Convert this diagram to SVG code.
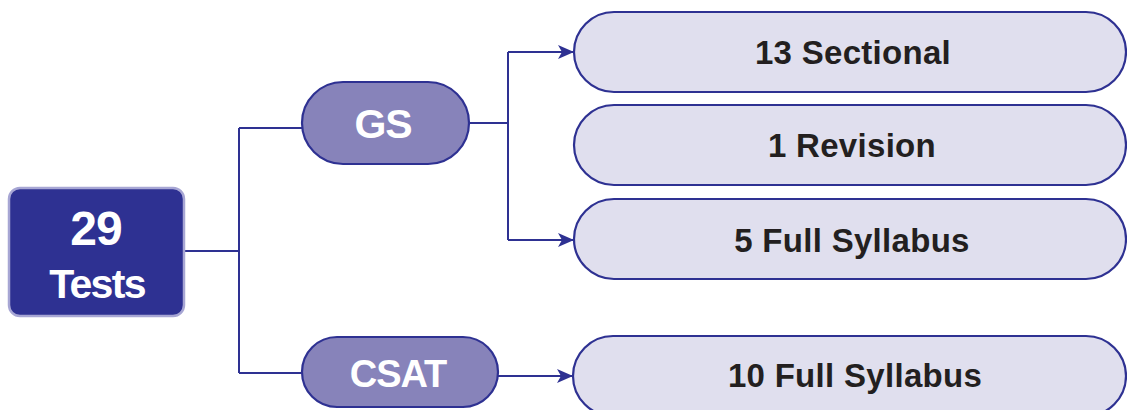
<svg xmlns="http://www.w3.org/2000/svg" width="1127" height="410" viewBox="0 0 1127 410">
<style>
.conn{fill:none;stroke:#2E3192;stroke-width:2}
.leaf{fill:#E0DFEE;stroke:#2E3192;stroke-width:2.2}
.pill{fill:#8783BA;stroke:#2E3192;stroke-width:2.2}
.wt{font-family:"Liberation Sans",Arial,sans-serif;font-weight:bold;fill:#FFFFFF;text-anchor:middle}
.lt{font-family:"Liberation Sans",Arial,sans-serif;font-weight:bold;fill:#231F20;text-anchor:middle;font-size:33px;letter-spacing:0.3px}
</style>
<defs>
<marker id="arr" markerUnits="userSpaceOnUse" markerWidth="16" markerHeight="14" refX="15" refY="7" orient="auto">
<path d="M0,0 L16,7 L0,14 L4,7 Z" fill="#2E3192"/>
</marker>
</defs>
<g id="connectors">
<path class="conn" d="M184,251 H239 M239,128 V373 M239,128 H303 M239,373 H303"/>
<path class="conn" d="M469,123 H508 M508,52 V240"/>
<path class="conn" d="M508,52 H573" marker-end="url(#arr)"/>
<path class="conn" d="M508,240 H573" marker-end="url(#arr)"/>
<path class="conn" d="M498,376 H572" marker-end="url(#arr)"/>
</g>
<g id="root">
<rect x="9" y="188" width="175" height="128" rx="11" fill="#2E3192" stroke="#A7A6D4" stroke-width="2.5"/>
<text class="wt" x="96" y="245" font-size="48" letter-spacing="-1">29</text>
<text class="wt" x="97" y="298" font-size="41" letter-spacing="-1.7">Tests</text>
</g>
<g id="gs">
<rect class="pill" x="302" y="82" width="167" height="82" rx="41"/>
<text class="wt" x="383" y="138" font-size="41" letter-spacing="-1">GS</text>
</g>
<g id="csat">
<rect class="pill" x="302" y="337" width="196" height="70" rx="35"/>
<text class="wt" x="398" y="387" font-size="38" letter-spacing="-1">CSAT</text>
</g>
<g id="sectional">
<rect class="leaf" x="574" y="12" width="552" height="80" rx="40"/>
<text class="lt" x="853" y="64">13 Sectional</text>
</g>
<g id="revision">
<rect class="leaf" x="574" y="105" width="552" height="80" rx="40"/>
<text class="lt" x="852" y="157">1 Revision</text>
</g>
<g id="full5">
<rect class="leaf" x="574" y="199" width="552" height="80" rx="40"/>
<text class="lt" x="852" y="252">5 Full Syllabus</text>
</g>
<g id="full10">
<rect class="leaf" x="573" y="336" width="553" height="80" rx="40"/>
<text class="lt" x="855" y="387">10 Full Syllabus</text>
</g>
</svg>
